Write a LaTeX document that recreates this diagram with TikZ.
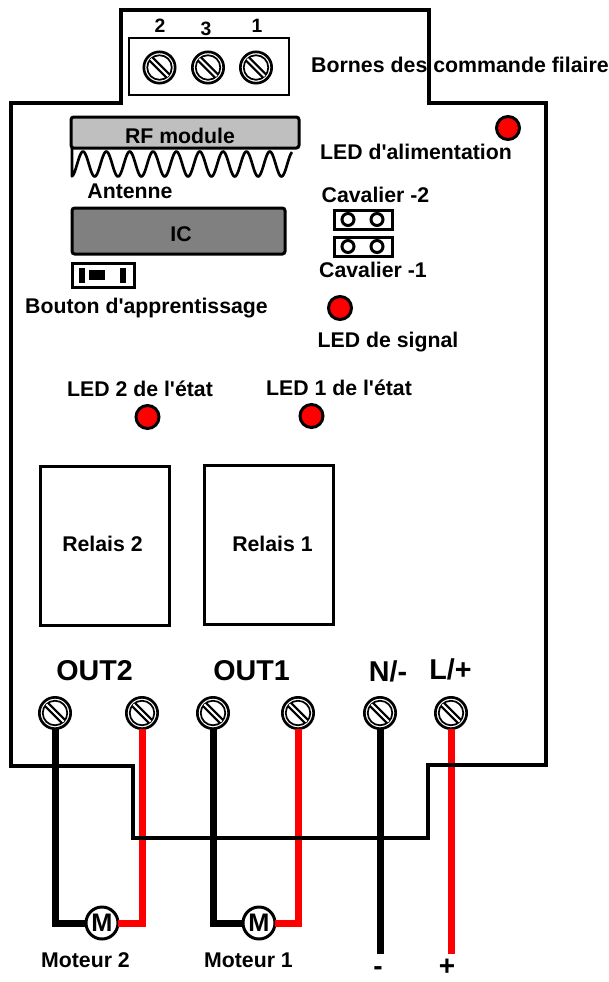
\documentclass[tikz,border=0pt]{standalone}
\usepackage{fontspec}
\setmainfont[Ligatures=TeXOff]{Liberation Sans}
\usepackage{xcolor}
\usetikzlibrary{positioning}
\begin{document}
\begin{tikzpicture}[x=0.75pt,y=-0.75pt]
\tikzset{screw/.style={circle,draw,fill=white,line width=2pt,inner sep=0pt,outer sep=0pt,minimum size=23.5pt,path picture={
\begin{scope}[shift={(path picture bounding box.center)}]
\draw[line width=1.3pt](0pt,0pt) circle (9.2pt);
\draw[line width=5pt](-6.5pt,6.5pt) -- (6.5pt,-6.5pt);
\draw[white,line width=1.5pt](-6.5pt,6.5pt) -- (6.5pt,-6.5pt);
\end{scope}}}}
\tikzset{led/.style={circle,draw,fill=red,line width=2.25pt,inner sep=0pt,minimum size=17.25pt}}
\tikzset{motor/.style={circle,draw,fill=white,line width=2.25pt,inner sep=0pt,outer sep=0pt,minimum size=24pt,font=\fontsize{19}{19}\selectfont\bfseries}}
\tikzset{box/.style={rectangle,draw,line width=2.25pt,inner sep=0pt}}
\tikzset{chip/.style={box,rounded corners=2pt}}
\tikzset{jumper/.style={box,minimum width=43.5pt,minimum height=14.25pt}}
\tikzset{pin/.style={circle,draw,fill=white,line width=2.25pt,inner sep=0pt,minimum size=9pt}}
\tikzset{legend/.style={anchor=base,inner sep=0pt,font=\fontsize{15.95}{16}\selectfont\bfseries}}
\tikzset{biglegend/.style={anchor=base,inner sep=0pt,font=\fontsize{21.5}{22}\selectfont\bfseries}}
\tikzset{numlegend/.style={legend,font=\fontsize{14.5}{15}\selectfont\bfseries}}
\tikzset{signlegend/.style={legend,text depth=0pt,font=\fontsize{21}{21}\selectfont\bfseries}}
\tikzset{blackwire/.style={line width=5.25pt,black}}
\tikzset{redwire/.style={line width=5.25pt,red}}
\useasboundingbox (0,0) rectangle (609,982);
\node[box,line width=1.6pt,minimum width=120pt,minimum height=42.75pt](terminal) at (209,66.5){};
\node[screw](cmdtwo) at (159.5,67.5){};
\node[screw](cmdthree) at (208,67.5){};
\node[screw](cmdone) at (256,67.5){};
\node[numlegend](numtwo) at (160,32){2};
\node[numlegend](numthree) at (206,35){3};
\node[numlegend](numone) at (257,32){1};
\node[legend,font=\fontsize{16}{16}\selectfont\bfseries](bornes) at (460,72){Bornes des commande filaire};
\node[chip,fill=black!25,minimum width=171pt,minimum height=23.25pt](rfmodule) at (185,132.5){};
\node[legend](rflabel) at (180,143){RF module};
\draw[line width=2pt,line join=round](72,148) -- (72,175) -- plot[domain=72:292,samples=240,smooth] (\x,{164-12.5*cos((\x-83)*15.418)});
\node[legend](antenne) at (130,198){Antenne};
\node[chip,fill=black!50,minimum width=159.75pt,minimum height=34.5pt](ic) at (178.5,231){};
\node[legend](iclabel) at (181,241){IC};
\node[box,fill=white,minimum width=46.5pt,minimum height=18pt](button) at (103,275){};
\node[fill=black,inner sep=0pt,minimum width=4.5pt,minimum height=11.25pt](buttonleft) at (82,275){};
\node[fill=black,inner sep=0pt,minimum width=12pt,minimum height=7.5pt](buttonmid) at (97,275){};
\node[fill=black,inner sep=0pt,minimum width=4.5pt,minimum height=11.25pt](buttonright) at (123,275){};
\node[legend](apprent) at (146.5,313){Bouton d'apprentissage};
\node[led](ledpower) at (508,128){};
\node[legend](ledpowerlabel) at (416,159){LED d'alimentation};
\node[legend](cavtwo) at (375.5,202){Cavalier -2};
\node[jumper](jumpertwo) at (363,219.5){};
\node[pin](pinA) at (348,219.5){};
\node[pin](pinB) at (377,219.5){};
\node[jumper](jumperone) at (363,246.5){};
\node[pin](pinC) at (348,246.5){};
\node[pin](pinD) at (377,246.5){};
\node[legend](cavone) at (373,277){Cavalier -1};
\node[led](ledsignal) at (340,308){};
\node[legend](ledsignallabel) at (388,347){LED de signal};
\node[legend](ledtwolabel) at (140,396){LED 2 de l'\'etat};
\node[legend](ledonelabel) at (339,395){LED 1 de l'\'etat};
\node[led](ledtwo) at (147.5,417){};
\node[led](ledone) at (311.5,416){};
\node[box,minimum width=96.75pt,minimum height=119.25pt](relaytwo) at (104.5,545.5){};
\node[box,minimum width=96.75pt,minimum height=119.25pt](relayone) at (268.5,545){};
\node[legend](relaytwolabel) at (102.5,551){Relais 2};
\node[legend](relayonelabel) at (272.5,551){Relais 1};
\node[biglegend](outtwo) at (94.5,680){OUT2};
\node[biglegend](outone) at (251.5,680){OUT1};
\node[biglegend](nminus) at (388,681){N/-};
\node[biglegend](lplus) at (450.5,679){L/+};
\node[screw](outtwoa) at (55,713){};
\node[screw](outtwob) at (142,713){};
\node[screw](outonea) at (213,713){};
\node[screw](outoneb) at (298,713){};
\node[screw](neutral) at (380,713){};
\node[screw](live) at (451,713){};
\node[motor](motortwo) at (102,923){M};
\node[motor](motorone) at (259,923){M};
\node[legend](motortwolabel) at (85.5,967){Moteur 2};
\node[legend](motoronelabel) at (248.5,967){Moteur 1};
\coordinate (minusend) at (380,954);
\coordinate (plusend) at (451,954);
\node[signlegend](minus) at (378,975.5){-};
\node[signlegend](plus) at (447,975.5){+};
\draw[blackwire](outtwoa) |- (motortwo);
\draw[redwire](outtwob) |- (motortwo);
\draw[blackwire](outonea) |- (motorone);
\draw[redwire](outoneb) |- (motorone);
\draw[blackwire](neutral) -- (minusend);
\draw[redwire](live) -- (plusend);
\draw[line width=2.6pt,line join=miter](121,103) -- (121,10) -- (429,10) -- (429,103) -- (546,103) -- (546,765) -- (428,765) -- (428,838) -- (133,838) -- (133,766) -- (11,766) -- (11,103) -- cycle;
\end{tikzpicture}
\end{document}
